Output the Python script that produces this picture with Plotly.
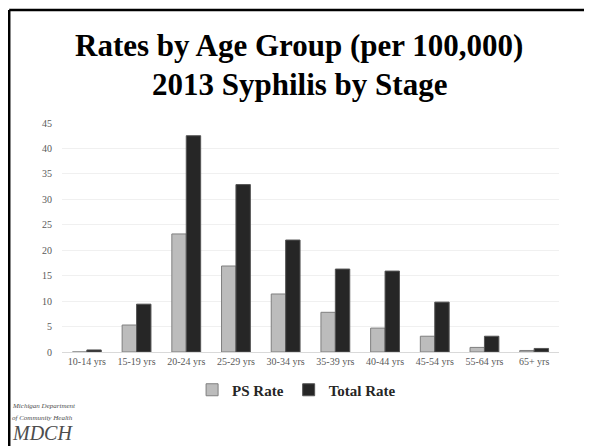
import plotly.graph_objects as go

age_groups = ["10-14 yrs", "15-19 yrs", "20-24 yrs", "25-29 yrs", "30-34 yrs",
              "35-39 yrs", "40-44 yrs", "45-54 yrs", "55-64 yrs", "65+ yrs"]
ps_rate = [0.0, 5.3, 23.2, 16.9, 11.4, 7.8, 4.7, 3.1, 0.9, 0.3]
total_rate = [0.4, 9.4, 42.5, 32.9, 22.0, 16.3, 15.9, 9.8, 3.1, 0.7]
y_ticks = [0, 5, 10, 15, 20, 25, 30, 35, 40, 45]

serif = "Liberation Serif, Times New Roman, serif"

fig = go.Figure()
fig.add_trace(go.Bar(
    x=age_groups, y=ps_rate, name="PS Rate",
    marker=dict(color="#bcbcbc", line=dict(color="#7f7f7f", width=1)),
))
fig.add_trace(go.Bar(
    x=age_groups, y=total_rate, name="Total Rate",
    marker=dict(color="#262626", line=dict(color="#555555", width=1)),
))

# page has an 8px body margin, so the figure is 8px smaller and shifted
fig.update_layout(
    width=584, height=438,
    margin=dict(l=54, r=33, t=115, b=94),
    paper_bgcolor="white", plot_bgcolor="white",
    barmode="group", bargap=0.42, bargroupgap=0,
    font=dict(family=serif, color="#595959", size=10),
    showlegend=True,
    legend=dict(
        orientation="h", x=0.472, xanchor="center", y=-0.166, yanchor="middle",
        font=dict(family=serif, size=15, color="#262626", weight="bold"),
        itemwidth=30, traceorder="normal",
    ),
    xaxis=dict(
        showline=True, linecolor="#d9d9d9", linewidth=1,
        tickfont=dict(family=serif, size=10, color="#595959"),
        ticks="",
    ),
    yaxis=dict(
        range=[0, 45], tickvals=y_ticks,
        showgrid=True, gridcolor="#f0f0f0", zeroline=False,
        tickfont=dict(family=serif, size=10, color="#595959"),
        ticklabelstandoff=9,
    ),
)

# slide title
fig.add_annotation(text="<b>Rates by Age Group (per 100,000)</b>",
                   xref="paper", yref="paper", x=0.477, y=1.3406,
                   xanchor="center", yanchor="middle", showarrow=False,
                   font=dict(family=serif, size=31, color="black"))
fig.add_annotation(text="<b>2013 Syphilis by Stage</b>",
                   xref="paper", yref="paper", x=0.477, y=1.166,
                   xanchor="center", yanchor="middle", showarrow=False,
                   font=dict(family=serif, size=31, color="black"))

# slide border (top and left)
fig.add_shape(type="line", xref="paper", yref="paper",
              x0=-0.1062, x1=1.07, y0=1.4934, y1=1.4934,
              line=dict(color="black", width=2.5))
fig.add_shape(type="line", xref="paper", yref="paper",
              x0=-0.1062, x1=-0.1062, y0=1.4934, y1=-0.42,
              line=dict(color="black", width=2.5))

# logo text
fig.add_annotation(text="<i>Michigan Department</i>", xref="paper", yref="paper",
                   x=-0.1046, y=-0.236, xanchor="left", yanchor="middle",
                   showarrow=False, font=dict(family=serif, size=7, color="#4d4d4d"))
fig.add_annotation(text="<i>of Community Health</i>", xref="paper", yref="paper",
                   x=-0.1046, y=-0.288, xanchor="left", yanchor="middle",
                   showarrow=False, font=dict(family=serif, size=7, color="#4d4d4d"))
fig.add_annotation(text="<i>MDCH</i>", xref="paper", yref="paper",
                   x=-0.1046, y=-0.355, xanchor="left", yanchor="middle",
                   showarrow=False, font=dict(family=serif, size=20, color="#4d4d4d"))

fig.write_html("out.html")
